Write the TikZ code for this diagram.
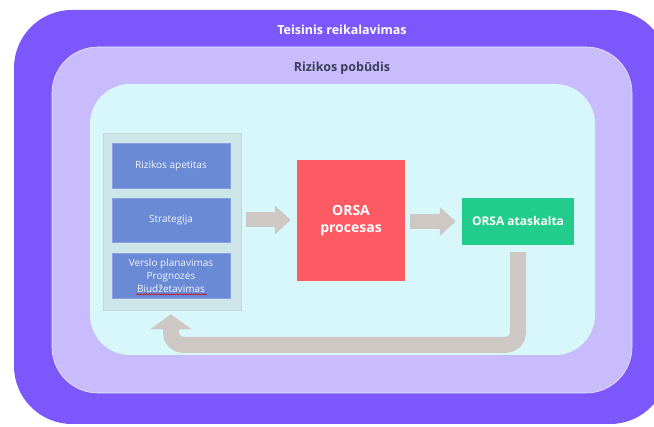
\documentclass[tikz,border=0pt]{standalone}
\usepackage{fontspec}
\setmainfont{Open Sans}
\usetikzlibrary{calc, arrows.meta, decorations.pathmorphing}
\definecolor{outerviolet}{HTML}{7B57FC}
\definecolor{lavender}{HTML}{C9BCFC}
\definecolor{icecyan}{HTML}{D7F7FA}
\definecolor{panelgray}{HTML}{CDE6EA}
\definecolor{boxblue}{HTML}{6A8AD6}
\definecolor{orsared}{HTML}{FC5B64}
\definecolor{orsagreen}{HTML}{22CC8C}
\definecolor{flowgray}{HTML}{CDC8C4}
\definecolor{titledark}{HTML}{3D3D5C}
\tikzset{>=latex}

\begin{document}
\begin{tikzpicture}[x=1pt, y=-1pt,
  layer/.style={rounded corners=#1},
  inputbox/.style={fill=boxblue, draw=boxblue!80!white, line width=0.6pt, minimum width=118pt, minimum height=45pt,
    text=white!92!boxblue, align=center, font=\fontsize{10}{13}\selectfont},
  flow/.style={draw=flowgray, line width=15pt, -{Triangle[width=28pt,length=16pt]}, shorten <=5pt, shorten >=6pt}]
\useasboundingbox (0,0) rectangle (654,427);
\clip (0,0) rectangle (654,427);
% nested frames
\fill[outerviolet, layer=58pt] (14,10) rectangle (668,424);
\fill[lavender, layer=46pt] (52,47) rectangle (632,393);
\draw[white!70!lavender, line width=0.6pt, layer=46pt] (52,47) rectangle (632,393);
\fill[icecyan, layer=40pt] (90,84) rectangle (595,355);
\node[text=white, font=\bfseries\fontsize{12.5}{15}\selectfont] (legal) at (342,30) {Teisinis reikalavimas};
\node[text=titledark, font=\bfseries\fontsize{12.5}{15}\selectfont] (nature) at (342,68) {Rizikos pobūdis};
% inputs
\node[fill=panelgray, draw=panelgray!85!gray, line width=0.6pt, minimum width=138pt, minimum height=177pt] (panel) at (172,221.5) {};
\node[inputbox] (appetite) at (171,165.5) {Rizikos apetitas};
\node[inputbox, minimum height=44pt] (strategy) at (171,220) {Strategija};
\node[inputbox] (planning) at (171,275.5) {Verslo planavimas\\Prognozės\\Biudžetavimas};
\draw[red!85!black, line width=0.5pt, decorate, decoration={snake, amplitude=0.6pt, segment length=2.5pt}]
  ($(planning.south)+(-35,-4)$) -- ++(71,0);
% process and report
\node[fill=orsared, minimum width=108pt, minimum height=121pt, text=white, align=center,
  font=\bfseries\fontsize{14}{17}\selectfont] (process) at (351,220.5) {ORSA\\procesas};
\node[fill=orsagreen, minimum width=112pt, minimum height=47pt, text=white,
  font=\bfseries\fontsize{12}{14}\selectfont] (report) at (518,221.5) {ORSA ataskalta};
\path[flow] (panel.east |- strategy) -- (process.west |- strategy);
\path[flow] (process.east |- report) -- (report.west);
\draw[flowgray, line width=16pt, rounded corners=12pt, -{Triangle[width=41pt,length=15pt]},
  shorten <=7pt, shorten >=4pt] (report.south) |- ($(panel.south)+(-1,34.5)$) -- ($(panel.south)+(-1,0)$);
\end{tikzpicture}
\end{document}
